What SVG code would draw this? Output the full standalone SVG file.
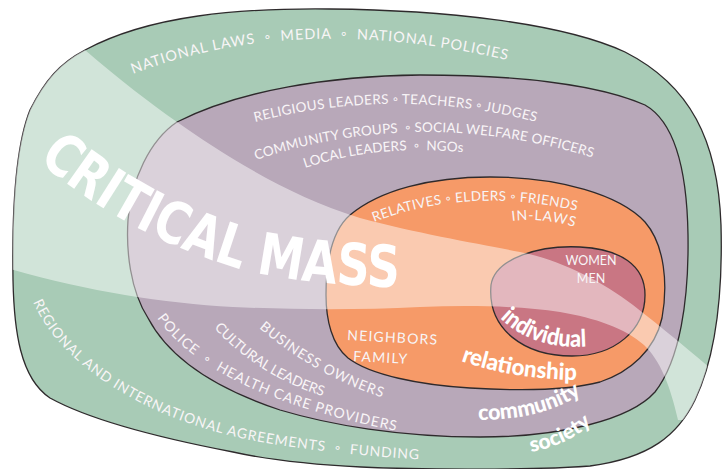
<svg xmlns="http://www.w3.org/2000/svg" width="722" height="469" viewBox="0 0 722 469">
  <style>
    .ring { stroke: #2e2a2c; stroke-width: 1.3; }
    .lbl { font-family: "Lato", "Noto Sans", "DejaVu Sans", sans-serif; font-size: 14px; fill: #f8f5f7; }
    .lvl { font-family: "Lato", "Noto Sans", sans-serif; font-weight: 900; fill: #ffffff; }
    .big { font-family: "Liberation Sans Narrow", "DejaVu Sans Condensed", "Liberation Sans", sans-serif; font-weight: bold; font-size: 58px; fill: #ffffff; }
  </style>
  <defs>
    <path id="outerShape" d="M 85,50 C 150,15 240,8 330,9 C 440,10 560,22 625,52 C 690,85 718,140 721,225 C 723,300 714,360 695,400 C 678,435 650,458 590,466 C 540,470 420,470 361,467 C 300,464 260,458 233,452 C 160,438 90,420 50,398 C 20,378 14,330 13,280 C 12,220 14,150 30,110 C 45,80 60,63 85,50 Z"/>
    <clipPath id="outerClip"><use href="#outerShape"/></clipPath>
    <!-- baselines for curved labels -->
    <path id="pNational" d="M 133,74 Q 300,10 515,62"/>
    <path id="pReligious" d="M 255,122 Q 400,85 540,123"/>
    <path id="pCommunity" d="M 256,160 Q 420,105 594,158"/>
    <path id="pLocal" d="M 305,168 Q 380,143 470,153"/>
    <path id="pPolice" d="M 157,318 Q 212,396 402,432 L 440,438"/>
    <path id="pCultural" d="M 214,328 Q 262,380 336,400"/>
    <path id="pBusiness" d="M 259,328 Q 318,378 390,400"/>
    <path id="pRegional" d="M 33,302 C 62,368 150,420 250,440 C 320,453 380,457 430,460"/>
    <path id="pRelatives" d="M 374,222 Q 470,185 583,212"/>
    <path id="pInlaws" d="M 512,221 Q 545,217 577,228"/>
    <path id="pIndividual" d="M 500,318 Q 535,352 594,346"/>
    <path id="pRelationship" d="M 461,361 Q 515,380 582,380"/>
    <path id="pCommunityLvl" d="M 478,420 Q 545,420 584,392"/>
    <path id="pSociety" d="M 531,452 Q 568,446 596,420"/>
    <path id="pCritical" d="M 38,160 C 90,205 150,240 230,266 C 270,278 330,286 420,288"/>
  </defs>

  <!-- nested spheres of influence -->
  <g id="society">
    <use href="#outerShape" class="ring" fill="#a8cbb6"/>
  </g>
  <g id="community">
    <path class="ring" fill="#b8a8b9" d="M 177,122 C 240,90 330,76 420,75 C 520,75 600,85 645,105 C 675,122 687,170 688,235 C 689,300 680,360 655,392 C 630,420 560,437 480,437 C 400,437 330,425 280,410 C 220,390 170,360 148,318 C 130,290 126,250 128,220 C 131,180 150,140 177,122 Z"/>
  </g>
  <g id="relationship">
    <path class="ring" fill="#f69a68" d="M 326,295 C 326,255 335,228 350,215 C 380,190 430,177 490,177 C 560,177 620,195 645,222 C 665,245 668,285 662,318 C 655,350 630,372 600,382 C 570,390 520,391 470,388 C 420,385 370,375 348,358 C 332,345 326,320 326,295 Z"/>
  </g>
  <g id="individual">
    <path class="ring" fill="#c97683" d="M 491,285 C 495,258 540,245 580,247 C 620,249 645,265 645,295 C 645,330 615,356 572,356 C 525,356 487,330 491,285 Z"/>
  </g>

  <!-- translucent critical mass sweep -->
  <g id="critical-mass-band" clip-path="url(#outerClip)">
    <path fill="#ffffff" fill-opacity="0.48" d="M 40,0 L 85,50 C 120,80 150,103 177,122 C 220,152 285,195 360,218 C 420,234 480,244 520,252 C 560,260 600,280 633,305 C 665,330 695,355 730,385 L 730,420 L 678,420 C 670,385 660,360 644,345 C 625,328 595,318 560,312 C 520,306 470,305 420,307 C 360,310 300,310 233,307 C 160,303 80,290 0,266 L 0,0 Z"/>
  </g>

  <!-- society labels -->
  <g id="society-labels" class="lbl">
    <text font-size="14.5"><textPath href="#pNational" textLength="380">NATIONAL LAWS &#160;◦&#160; MEDIA &#160;◦&#160; NATIONAL POLICIES</textPath></text>
    <text font-size="14"><textPath href="#pRegional" textLength="436">REGIONAL AND INTERNATIONAL AGREEMENTS &#160;◦&#160; FUNDING</textPath></text>
  </g>

  <!-- community labels -->
  <g id="community-labels" class="lbl">
    <text font-size="13.5"><textPath href="#pReligious" textLength="284">RELIGIOUS LEADERS ◦ TEACHERS ◦ JUDGES</textPath></text>
    <text font-size="13.5"><textPath href="#pCommunity" textLength="342">COMMUNITY GROUPS &#160;◦ SOCIAL WELFARE OFFICERS</textPath></text>
    <text font-size="13.5"><textPath href="#pLocal" textLength="160">LOCAL LEADERS &#160;◦&#160; NGOs</textPath></text>
    <text font-size="14"><textPath href="#pPolice" textLength="270">POLICE &#160;◦&#160; HEALTH CARE PROVIDERS</textPath></text>
    <text font-size="14"><textPath href="#pCultural" textLength="130">CULTURAL LEADERS</textPath></text>
    <text font-size="14"><textPath href="#pBusiness" textLength="142">BUSINESS OWNERS</textPath></text>
  </g>

  <!-- relationship labels -->
  <g id="relationship-labels" class="lbl">
    <text font-size="13.5"><textPath href="#pRelatives" textLength="206">RELATIVES ◦ ELDERS ◦ FRIENDS</textPath></text>
    <text font-size="14"><textPath href="#pInlaws" textLength="63">IN-LAWS</textPath></text>
    <text x="347" y="340" font-size="14" textLength="90" transform="rotate(3 347 340)">NEIGHBORS</text>
    <text x="353" y="361" font-size="14" textLength="54" transform="rotate(3 353 361)">FAMILY</text>
  </g>

  <!-- individual labels -->
  <g id="individual-labels" class="lbl" text-anchor="middle">
    <text x="591" y="265" font-size="12.5">WOMEN</text>
    <text x="591" y="283" font-size="12.5">MEN</text>
  </g>

  <!-- level names -->
  <g id="level-names" class="lvl">
    <text font-size="24"><textPath href="#pIndividual" textLength="94" lengthAdjust="spacingAndGlyphs">individual</textPath></text>
    <text font-size="23"><textPath href="#pRelationship" textLength="118" lengthAdjust="spacingAndGlyphs">relationship</textPath></text>
    <text font-size="22"><textPath href="#pCommunityLvl" textLength="108" lengthAdjust="spacingAndGlyphs">community</textPath></text>
    <text font-size="21"><textPath href="#pSociety" textLength="68" lengthAdjust="spacingAndGlyphs">society</textPath></text>
  </g>

  <g id="critical-mass-title">
    <text class="big"><textPath href="#pCritical" textLength="392" lengthAdjust="spacingAndGlyphs">CRITICAL MASS</textPath></text>
  </g>
</svg>
